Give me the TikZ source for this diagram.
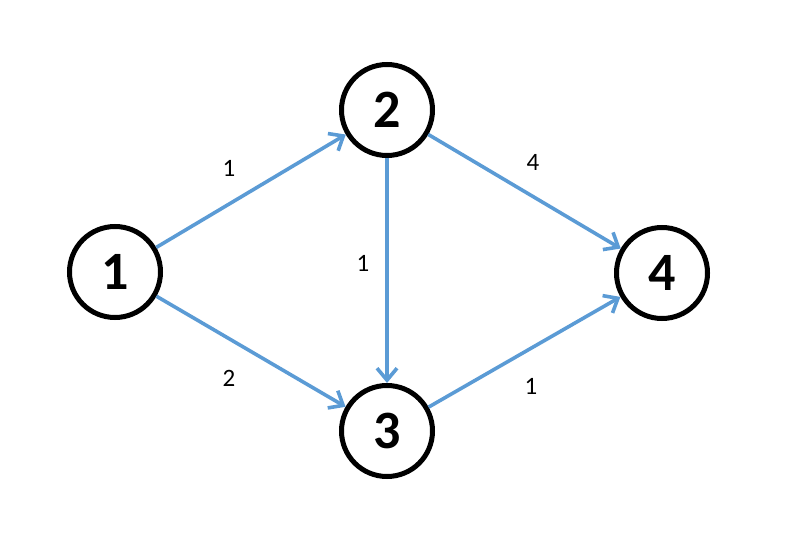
\documentclass[tikz,border=0pt]{standalone}
\usepackage{fontspec}
\setmainfont{Carlito}
\usetikzlibrary{arrows.meta}

\definecolor{edgeblue}{RGB}{91,155,213}

\begin{document}
\begin{tikzpicture}[
    x=1pt, y=-1pt,
    vertex/.style={draw, circle, line width=5pt, minimum size=91pt,
      inner sep=0pt, font=\fontsize{54}{54}\selectfont\bfseries},
    edge/.style={draw=edgeblue, line width=3.6pt,
      -{Straight Barb[length=12pt, width=20pt, line width=3.6pt]}},
    weight/.style={font=\fontsize{25}{25}\selectfont},
  ]
  \useasboundingbox (0,0) rectangle (789,548);

  % Vertices
  \node[vertex] (v1) at (115, 272) {1};
  \node[vertex] (v2) at (387, 110) {2};
  \node[vertex] (v3) at (387, 431) {3};
  \node[vertex] (v4) at (662, 273) {4};

  % Edges
  \draw[edge] (v1) -- (v2);
  \draw[edge] (v1) -- (v3);
  \draw[edge] (v2) -- (v3);
  \draw[edge] (v2) -- (v4);
  \draw[edge] (v3) -- (v4);

  % Weights
  \node[weight] (w12) at (229, 168) {1};
  \node[weight] (w13) at (229, 378) {2};
  \node[weight] (w23) at (363, 263) {1};
  \node[weight] (w24) at (533, 162) {4};
  \node[weight] (w34) at (531, 386) {1};
\end{tikzpicture}
\end{document}
